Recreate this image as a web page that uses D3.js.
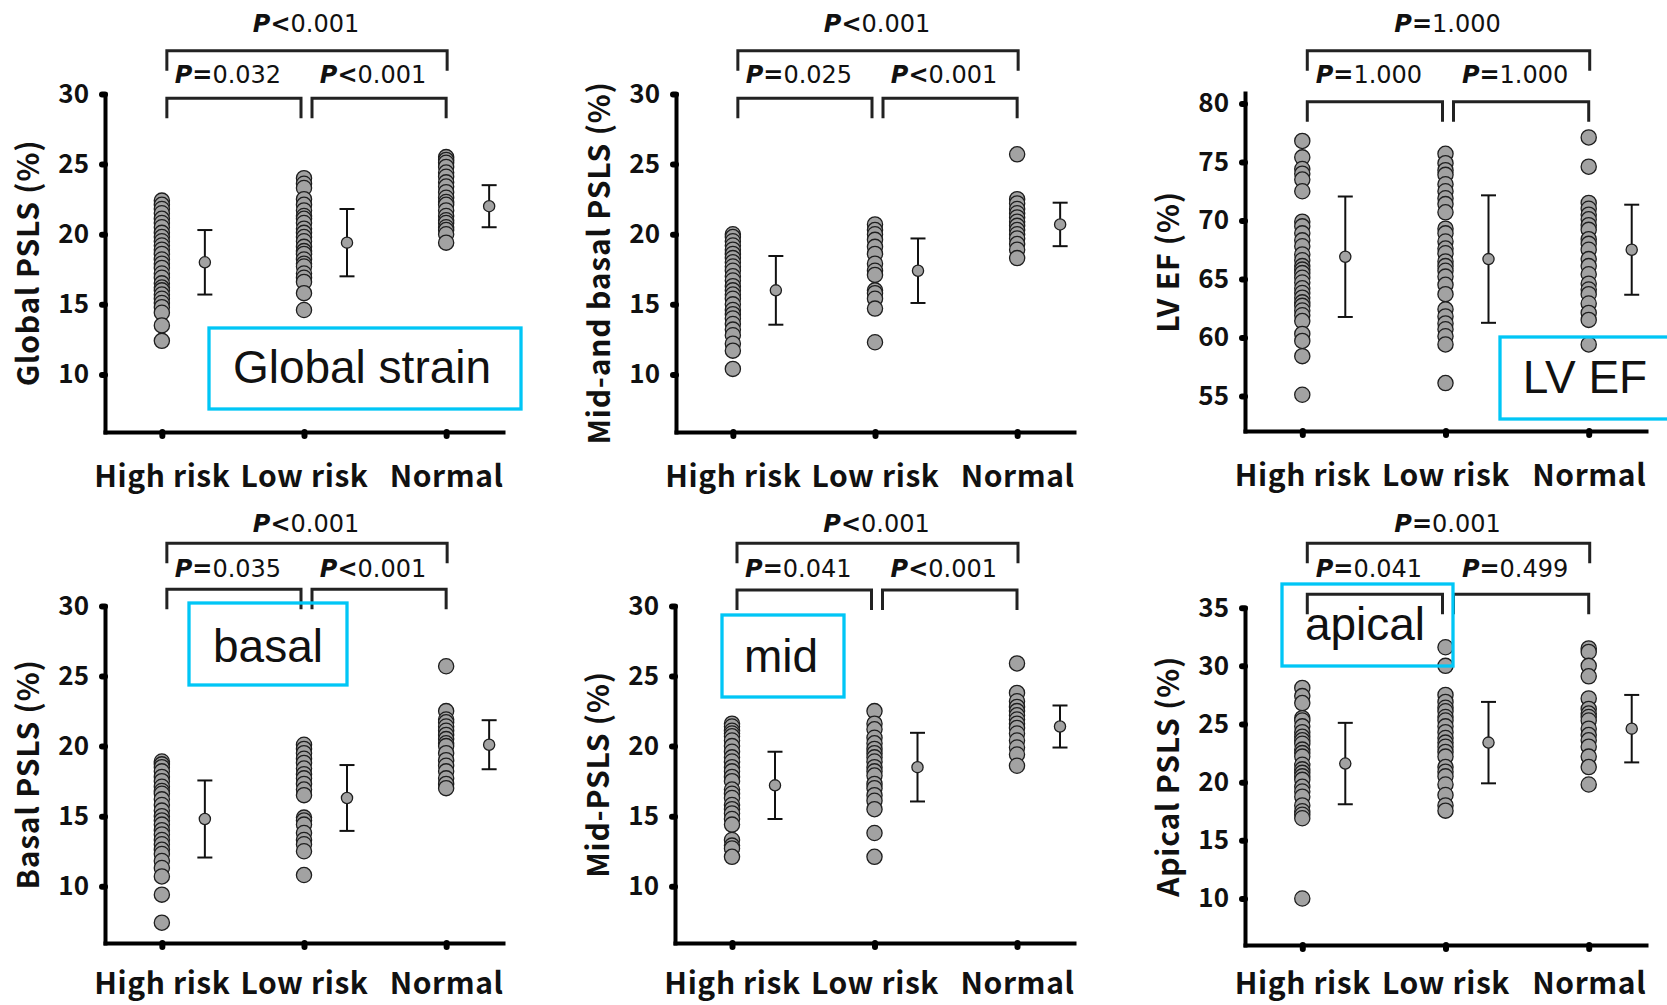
<!DOCTYPE html>
<html>
<head>
<meta charset="utf-8">
<script src="https://cdn.jsdelivr.net/npm/d3@7"></script>
<style>
  body { margin: 0; background: #fff; }
  svg { display: block; }
  text { font-family: "Noto Sans CJK KR", "Noto Sans", sans-serif; fill: #111; }
</style>
</head>
<body>
<svg id="chart" width="1667" height="1005"></svg>
<script>
const groups = ['High risk', 'Low risk', 'Normal'];

// individual patients (%)
const globalHigh = [22.4, 22.1, 21.8, 21.5, 21.1, 20.8, 20.5, 20.1, 19.8, 19.5, 19.2, 18.9, 18.6, 18.2, 17.9, 17.6, 17.2, 16.9, 16.5, 16.2, 16.0, 15.7, 15.4, 15.1, 14.8, 14.4, 13.5, 12.4];
const globalLow = [24.0, 23.6, 23.3, 22.5, 22.1, 21.7, 21.3, 21.1, 20.8, 20.4, 20.1, 19.8, 19.5, 19.1, 18.8, 18.6, 18.2, 17.9, 17.7, 17.2, 16.9, 16.6, 15.8, 14.6];
const globalNormal = [25.5, 25.3, 25.1, 24.8, 24.4, 24.1, 23.7, 23.4, 23.0, 22.6, 22.3, 22.1, 21.7, 21.3, 21.0, 20.8, 20.5, 20.3, 20.0, 19.4];

const midBasalHigh = [20.0, 19.8, 19.5, 19.2, 18.9, 18.6, 18.3, 18.0, 17.7, 17.4, 17.0, 16.7, 16.3, 16.0, 15.7, 15.4, 15.0, 14.6, 14.3, 14.0, 13.6, 13.2, 12.8, 12.2, 11.7, 10.4];
const midBasalLow = [20.7, 20.3, 20.0, 19.6, 19.1, 18.6, 17.9, 17.4, 17.1, 16.0, 15.8, 15.4, 14.7, 12.3];
const midBasalNormal = [25.7, 22.5, 22.2, 21.8, 21.5, 21.2, 20.9, 20.6, 20.3, 20.0, 19.7, 19.3, 18.9, 18.3];

const efHigh = [76.8, 75.4, 74.4, 74.0, 73.5, 72.5, 69.9, 69.5, 68.9, 68.3, 67.8, 67.1, 66.6, 66.1, 65.8, 65.5, 65.1, 64.7, 64.2, 63.8, 63.4, 63.0, 62.7, 62.3, 61.9, 61.4, 60.3, 59.7, 58.4, 55.1];
const efLow = [75.7, 74.9, 74.3, 73.9, 73.1, 72.5, 71.9, 71.4, 70.7, 69.3, 68.9, 68.2, 67.6, 67.2, 66.5, 66.1, 65.7, 65.2, 64.5, 63.7, 62.4, 61.8, 61.2, 60.7, 60.1, 59.4, 56.1];
const efNormal = [77.1, 74.6, 71.5, 71.0, 70.5, 70.1, 69.6, 69.2, 68.4, 68.0, 67.5, 66.7, 66.1, 65.4, 64.6, 64.1, 63.7, 62.9, 62.1, 61.5, 59.4];

const basalHigh = [18.9, 18.7, 18.5, 18.2, 17.8, 17.5, 17.1, 16.8, 16.6, 16.2, 15.8, 15.4, 15.0, 14.7, 14.4, 14.0, 13.7, 13.3, 13.0, 12.6, 12.3, 11.8, 11.3, 10.7, 9.4, 7.4];
const basalLow = [20.1, 19.8, 19.5, 19.1, 18.8, 18.4, 18.0, 17.7, 17.3, 16.9, 16.5, 14.9, 14.7, 14.4, 13.8, 13.3, 13.0, 12.5, 10.8];
const basalNormal = [25.7, 22.5, 21.9, 21.7, 21.4, 21.1, 20.8, 20.5, 20.2, 20.0, 19.5, 19.0, 18.6, 18.2, 17.7, 17.3, 17.0];

const midHigh = [21.6, 21.4, 21.1, 20.9, 20.7, 20.4, 20.0, 19.6, 19.2, 18.9, 18.5, 18.2, 17.8, 17.5, 16.9, 16.6, 16.3, 15.8, 15.5, 15.2, 14.8, 14.4, 13.3, 12.9, 12.7, 12.1];
const midLow = [22.5, 21.6, 21.2, 20.6, 20.2, 19.8, 19.5, 19.2, 18.9, 18.5, 18.2, 17.9, 17.3, 17.0, 16.5, 16.1, 15.5, 13.8, 12.1];
const midNormal = [25.9, 23.8, 23.2, 22.8, 22.5, 22.2, 21.9, 21.6, 21.3, 20.9, 20.4, 19.9, 19.4, 18.6];

const apicalHigh = [28.1, 27.4, 26.8, 25.5, 25.3, 24.8, 24.3, 23.9, 23.6, 23.3, 22.8, 22.5, 22.2, 21.5, 21.1, 20.8, 20.5, 20.2, 19.6, 19.2, 18.75, 18.0, 17.5, 17.2, 16.9, 10.0];
const apicalLow = [31.6, 30.0, 27.5, 26.9, 26.4, 26.1, 25.6, 25.3, 24.8, 24.3, 23.8, 23.4, 23.05, 22.6, 22.2, 21.3, 20.9, 20.5, 19.8, 18.9, 18.0, 17.55];
const apicalNormal = [31.5, 31.2, 30.0, 29.1, 27.2, 26.3, 25.9, 25.6, 25.3, 24.6, 24.05, 23.6, 23.05, 22.2, 21.3, 19.8];

// mean and SD per group
const globalMean = [18.0, 19.4, 22.0];
const globalSd = [2.3, 2.4, 1.5];
const midBasalMean = [16.0, 17.4, 20.7];
const midBasalSd = [2.45, 2.3, 1.55];
const efMean = [66.9, 66.7, 67.5];
const efSd = [5.15, 5.45, 3.85];
const basalMean = [14.8, 16.3, 20.1];
const basalSd = [2.75, 2.35, 1.75];
const midMean = [17.2, 18.5, 21.4];
const midSd = [2.4, 2.45, 1.5];
const apicalMean = [21.6, 23.4, 24.6];
const apicalSd = [3.5, 3.5, 2.9];

// p values: overall, high vs low, low vs normal
const globalP = ['<0.001', '=0.032', '<0.001'];
const midBasalP = ['<0.001', '=0.025', '<0.001'];
const efP = ['=1.000', '=1.000', '=1.000'];
const basalP = ['<0.001', '=0.035', '<0.001'];
const midP = ['<0.001', '=0.041', '<0.001'];
const apicalP = ['=0.001', '=0.041', '=0.499'];

const strainTicks = [10, 15, 20, 25, 30];
const efTicks = [55, 60, 65, 70, 75, 80];
const apicalTicks = [10, 15, 20, 25, 30, 35];

const panels = [
  { title: 'Global PSLS (%)', dots: [globalHigh, globalLow, globalNormal], mean: globalMean, sd: globalSd, p: globalP,
    ticks: strainTicks, domain: [5.9, 30], left: 105, right: 503, top: 94, bottom: 432,
    brk: [50.7, 98.3], lab: [32.3, 83.3], pad: 30,
    box: { label: 'Global strain', x0: 209, y0: 328, x1: 521, y1: 409, tx: 362, ty: 383 } },
  { title: 'Mid-and basal PSLS (%)', dots: [midBasalHigh, midBasalLow, midBasalNormal], mean: midBasalMean, sd: midBasalSd, p: midBasalP,
    ticks: strainTicks, domain: [5.9, 30], left: 676, right: 1074, top: 94, bottom: 432,
    brk: [50.7, 98.3], lab: [32.3, 83.3], pad: 30 },
  { title: 'LV EF (%)', dots: [efHigh, efLow, efNormal], mean: efMean, sd: efSd, p: efP,
    ticks: efTicks, domain: [52, 80.9], left: 1245, right: 1646, top: 93, bottom: 431,
    brk: [50.7, 101.7], lab: [32.3, 83.3], pad: 30,
    box: { label: 'LV EF', x0: 1500, y0: 337, x1: 1690, y1: 419, tx: 1585, ty: 393 } },
  { title: 'Basal PSLS (%)', dots: [basalHigh, basalLow, basalNormal], mean: basalMean, sd: basalSd, p: basalP,
    ticks: strainTicks, domain: [5.95, 30], left: 105, right: 503, top: 606, bottom: 943,
    brk: [543.3, 589.3], lab: [531.7, 577.3], pad: 26,
    box: { label: 'basal', x0: 189, y0: 603, x1: 347, y1: 685, tx: 268, ty: 662 } },
  { title: 'Mid-PSLS (%)', dots: [midHigh, midLow, midNormal], mean: midMean, sd: midSd, p: midP,
    ticks: strainTicks, domain: [5.95, 30], left: 675, right: 1074, top: 606, bottom: 943,
    brk: [543.3, 590], lab: [531.7, 577.3], pad: 26,
    box: { label: 'mid', x0: 722, y0: 615, x1: 844, y1: 697, tx: 781, ty: 672 } },
  { title: 'Apical PSLS (%)', dots: [apicalHigh, apicalLow, apicalNormal], mean: apicalMean, sd: apicalSd, p: apicalP,
    ticks: apicalTicks, domain: [6, 35], left: 1245, right: 1646, top: 607.7, bottom: 945,
    brk: [543.3, 594.3], lab: [531.7, 577.3], pad: 24,
    box: { label: 'apical', x0: 1282, y0: 584, x1: 1453, y1: 666, tx: 1365, ty: 640 } }
];

const svg = d3.select('#chart');

function pLabel(g, x, y, txt) {
  const t = g.append('text').attr('x', x).attr('y', y)
    .attr('text-anchor', 'middle')
    .style('font-family', '"DejaVu Sans", sans-serif')
    .style('font-size', '24px');
  t.append('tspan').text('P').style('font-weight', 'bold').style('font-style', 'italic');
  t.append('tspan').text(txt[0]).style('font-weight', 'bold');
  t.append('tspan').text(txt.slice(1));
}

function drawPanel(p) {
  const g = svg.append('g');
  const x = d3.scalePoint().domain(groups).range([p.left, p.right]).padding(0.4);
  const y = d3.scaleLinear().domain(p.domain).range([p.bottom, p.top]);

  const yAxis = g.append('g')
    .attr('transform', `translate(${p.left},0)`)
    .call(d3.axisLeft(y).tickValues(p.ticks).tickSize(3).tickSizeOuter(0).tickPadding(13));
  const xAxis = g.append('g')
    .attr('transform', `translate(0,${p.bottom})`)
    .call(d3.axisBottom(x).tickSize(4).tickSizeOuter(0).tickPadding(p.pad));

  [yAxis, xAxis].forEach(a => {
    a.select('.domain').attr('stroke', '#000').attr('stroke-width', 4).attr('stroke-linecap', 'square');
    a.selectAll('.tick line').attr('stroke', '#000').attr('stroke-width', 6).attr('stroke-linecap', 'round');
  });
  yAxis.selectAll('.tick text')
    .style('font-size', '26px').style('font-weight', 'bold').attr('fill', '#111');
  xAxis.selectAll('.tick text')
    .style('font-size', '30px').style('font-weight', 'bold')
    .style('letter-spacing', '0.6px').attr('fill', '#111');

  // y title
  g.append('text')
    .attr('transform', `translate(${p.left - 77},${(p.top + p.bottom) / 2}) rotate(-90)`)
    .attr('text-anchor', 'middle')
    .attr('dy', '0.35em')
    .style('font-size', '30px').style('font-weight', 'bold')
    .style('letter-spacing', '0.8px')
    .text(p.title);

  // individual dots
  groups.forEach((grp, i) => {
    g.selectAll(null)
      .data(p.dots[i])
      .join('circle')
      .attr('cx', x(grp))
      .attr('cy', d => y(d))
      .attr('r', 7.6)
      .attr('fill', '#a2a2a2')
      .attr('stroke', '#1e1e1e')
      .attr('stroke-width', 1.3);
  });

  // mean +/- SD
  const ex = grp => x(grp) + 43;
  const err = g.selectAll('.err')
    .data(groups.map((grp, i) => ({ grp, m: p.mean[i], s: p.sd[i] })))
    .join('g');
  err.append('line')
    .attr('x1', d => ex(d.grp)).attr('x2', d => ex(d.grp))
    .attr('y1', d => y(d.m - d.s)).attr('y2', d => y(d.m + d.s));
  err.append('line')
    .attr('x1', d => ex(d.grp) - 7.5).attr('x2', d => ex(d.grp) + 7.5)
    .attr('y1', d => y(d.m + d.s)).attr('y2', d => y(d.m + d.s));
  err.append('line')
    .attr('x1', d => ex(d.grp) - 7.5).attr('x2', d => ex(d.grp) + 7.5)
    .attr('y1', d => y(d.m - d.s)).attr('y2', d => y(d.m - d.s));
  err.selectAll('line').attr('stroke', '#111').attr('stroke-width', 2);
  err.append('circle')
    .attr('cx', d => ex(d.grp)).attr('cy', d => y(d.m))
    .attr('r', 5.6).attr('fill', '#a2a2a2').attr('stroke', '#1e1e1e').attr('stroke-width', 1.3);

  // comparison brackets
  const [c0, c1, c2] = groups.map(grp => x(grp));
  const drop = 20;
  const brackets = [
    [c0 + 5, c2 + 1, p.brk[0]],
    [c0 + 5, c1 - 3, p.brk[1]],
    [c1 + 8, c2, p.brk[1]]
  ];
  g.selectAll('.brk')
    .data(brackets)
    .join('path')
    .attr('d', d => `M${d[0]},${d[2] + drop}V${d[2]}H${d[1]}V${d[2] + drop}`)
    .attr('fill', 'none').attr('stroke', '#222').attr('stroke-width', 3);

  pLabel(g, (c0 + c2) / 2 + 2, p.lab[0], p.p[0]);
  pLabel(g, (c0 + c1) / 2 - 5, p.lab[1], p.p[1]);
  pLabel(g, (c1 + c2) / 2 - 2, p.lab[1], p.p[2]);

  // highlight box
  if (p.box) {
    const b = p.box;
    g.append('rect')
      .attr('x', b.x0).attr('y', b.y0)
      .attr('width', b.x1 - b.x0).attr('height', b.y1 - b.y0)
      .attr('fill', 'none').attr('stroke', '#00c6f6').attr('stroke-width', 3.3);
    g.append('text')
      .attr('x', b.tx).attr('y', b.ty)
      .attr('text-anchor', 'middle')
      .style('font-family', '"Liberation Sans", Arial, sans-serif')
      .style('font-size', '46px').attr('fill', '#000')
      .text(b.label);
  }
}

panels.forEach(drawPanel);
</script>
</body>
</html>
